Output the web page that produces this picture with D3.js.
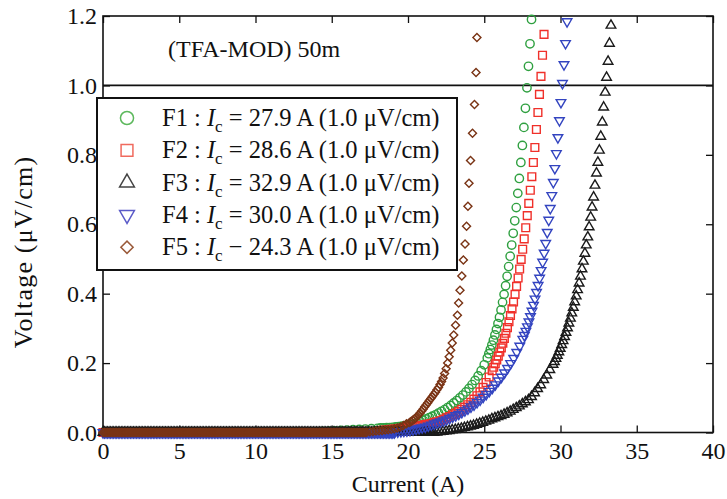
<!DOCTYPE html>
<html>
<head>
<meta charset="utf-8">
<script src="https://cdn.jsdelivr.net/npm/d3@7"></script>
<style>
  body { margin: 0; background: #fff; }
  text { font-family: "Liberation Serif", "Times New Roman", serif; fill: #111; }
</style>
</head>
<body>
<script>
// tick values / labels
const xTicks = [0, 5, 10, 15, 20, 25, 30, 35, 40];
const yTicks = [0, 0.2, 0.4, 0.6, 0.8, 1.0, 1.2];

// legend text pieces
const seriesNames = ["F1", "F2", "F3", "F4", "F5"];
const icValues = ["27.9", "28.6", "32.9", "30.0", "24.3"];
const icSigns = ["=", "=", "=", "=", "\u2212"];

// flat part of every sweep (V = 0), current in A
const baseCurrent = [
  0, 0.1, 0.2, 0.3, 0.4, 0.5, 0.6, 0.7, 0.8, 0.9,
  1, 1.1, 1.2, 1.3, 1.4, 1.5, 1.6, 1.7, 1.8, 1.9,
  2, 2.1, 2.2, 2.3, 2.4, 2.5, 2.6, 2.7, 2.8, 2.9,
  3, 3.1, 3.2, 3.3, 3.4, 3.5, 3.6, 3.7, 3.8, 3.9,
  4, 4.1, 4.2, 4.3, 4.4, 4.5, 4.6, 4.7, 4.8, 4.9,
  5, 5.1, 5.2, 5.3, 5.4, 5.5, 5.6, 5.7, 5.8, 5.9,
  6, 6.1, 6.2, 6.3, 6.4, 6.5, 6.6, 6.7, 6.8, 6.9,
  7, 7.1, 7.2, 7.3, 7.4, 7.5, 7.6, 7.7, 7.8, 7.9,
  8, 8.1, 8.2, 8.3, 8.4, 8.5, 8.6, 8.7, 8.8, 8.9,
  9, 9.1, 9.2, 9.3, 9.4, 9.5, 9.6, 9.7, 9.8, 9.9,
  10, 10.1, 10.2, 10.3, 10.4, 10.5, 10.6, 10.7, 10.8, 10.9,
  11, 11.1, 11.2, 11.3, 11.4, 11.5, 11.6, 11.7, 11.8, 11.9,
  12, 12.1, 12.2, 12.3, 12.4, 12.5, 12.6, 12.7, 12.8, 12.9,
  13, 13.1, 13.2, 13.3, 13.4, 13.5, 13.6, 13.7, 13.8, 13.9,
  14, 14.1, 14.2, 14.3, 14.4, 14.5, 14.6, 14.7, 14.8, 14.9,
  15, 15.1, 15.2, 15.3, 15.4, 15.5, 15.6, 15.7, 15.8, 15.9,
  16, 16.1, 16.2, 16.3, 16.4, 16.5, 16.6, 16.7, 16.8, 16.9,
  17, 17.1, 17.2, 17.3, 17.4, 17.5, 17.6, 17.7, 17.8, 17.9,
  18, 18.1, 18.2, 18.3, 18.4, 18.5, 18.6, 18.7, 18.8, 18.9,
  19, 19.1, 19.2, 19.3, 19.4, 19.5, 19.6, 19.7, 19.8, 19.9,
  20, 20.1, 20.2, 20.3, 20.4, 20.5, 20.6, 20.7, 20.8, 20.9,
  21, 21.1, 21.2, 21.3, 21.4, 21.5, 21.6
];

// rising part of each sweep: [current A, voltage uV/cm]
const f1Rise = [
  [14.0,.002],[14.4,.003],[14.8,.004],[15.2,.005],[15.6,.006],[16.0,.007],[16.4,.008],[16.8,.009],
  [17.2,.010],[17.6,.011],[18.0,.012],[18.2,.013],[18.4,.013],[18.6,.014],[18.8,.014],[19.0,.015],
  [19.2,.016],[19.4,.017],[19.6,.018],[19.8,.019],[20.0,.021],[20.2,.023],[20.4,.025],[20.6,.028],
  [20.8,.031],[21.0,.035],[21.2,.039],[21.4,.043],[21.6,.047],[21.8,.051],[22.0,.056],[22.2,.061],
  [22.4,.066],[22.6,.072],[22.8,.078],[23.0,.085],[23.2,.092],[23.4,.100],[23.6,.108],[23.8,.117],
  [24.0,.127],[24.2,.138],[24.4,.150],[24.6,.163],[24.8,.178],[25.0,.195],[25.2,.215],[25.3,.227],
  [25.4,.239],[25.5,.252],[25.6,.266],[25.7,.281],[25.8,.297],[25.9,.314],[26.0,.332],[26.1,.353],
  [26.2,.375],[26.3,.398],[26.4,.423],[26.5,.450],[26.6,.478],[26.7,.508],[26.8,.540],[26.9,.574],
  [27.0,.610],[27.1,.648],[27.2,.689],[27.3,.732],[27.4,.778],[27.5,.827],[27.6,.879],[27.7,.934],
  [27.8,.993],[27.9,1.055],[28.0,1.12],[28.1,1.19]
];
const f2Rise = [
  [18.12,.005],[18.32,.006],[18.52,.007],[18.72,.008],[18.92,.009],[19.12,.010],[19.32,.011],[19.52,.012],
  [19.72,.013],[19.92,.015],[20.12,.016],[20.32,.017],[20.52,.018],[20.72,.019],[20.92,.021],[21.12,.023],
  [21.32,.024],[21.52,.026],[21.72,.029],[21.92,.031],[22.12,.034],[22.32,.038],[22.52,.042],[22.72,.046],
  [22.92,.051],[23.12,.056],[23.32,.061],[23.52,.067],[23.72,.073],[23.92,.080],[24.12,.087],[24.32,.096],
  [24.52,.106],[24.72,.117],[24.92,.130],[25.12,.144],[25.32,.160],[25.52,.178],[25.62,.188],[25.72,.198],
  [25.82,.209],[25.92,.220],[26.02,.232],[26.12,.244],[26.22,.257],[26.32,.271],[26.42,.286],[26.52,.302],
  [26.62,.319],[26.72,.337],[26.82,.356],[26.92,.376],[27.02,.398],[27.12,.421],[27.22,.445],[27.32,.471],
  [27.42,.499],[27.52,.528],[27.62,.558],[27.72,.590],[27.82,.625],[27.92,.660],[28.02,.698],[28.12,.737],
  [28.22,.778],[28.32,.821],[28.42,.873],[28.52,.922],[28.62,.974],[28.72,1.026],[28.82,1.087],[28.92,1.147]
];
const f3Rise = [
  [21.7,.000],[21.9,.001],[22.1,.002],[22.3,.003],[22.5,.004],[22.7,.005],[22.9,.007],[23.1,.008],
  [23.3,.010],[23.5,.012],[23.7,.014],[23.9,.016],[24.1,.018],[24.3,.020],[24.5,.023],[24.7,.026],
  [24.9,.029],[25.1,.032],[25.3,.035],[25.5,.039],[25.7,.042],[25.9,.045],[26.1,.048],[26.3,.052],
  [26.5,.056],[26.7,.061],[26.9,.066],[27.1,.071],[27.3,.076],[27.5,.082],[27.7,.088],[27.9,.094],
  [28.1,.103],[28.3,.114],[28.5,.126],[28.7,.137],[28.9,.152],[29.1,.165],[29.3,.181],[29.51,.196],
  [29.60,.204],[29.70,.213],[29.79,.222],[29.89,.232],[29.98,.242],[30.08,.253],[30.17,.264],[30.27,.276],
  [30.36,.288],[30.46,.301],[30.55,.315],[30.65,.329],[30.74,.344],[30.84,.360],[30.93,.376],[31.03,.393],
  [31.12,.411],[31.22,.430],[31.31,.450],[31.41,.471],[31.50,.493],[31.60,.516],[31.69,.540],[31.79,.563],
  [31.88,.592],[31.98,.620],[32.07,.649],[32.17,.678],[32.26,.712],[32.36,.747],[32.45,.778],[32.55,.813],
  [32.64,.853],[32.74,.894],[32.83,.937],[32.93,.980],[33.02,1.023],[33.12,1.069],[33.21,1.121],[33.31,1.173]
];
const f4Rise = [
  [19.13,.001],[19.33,.002],[19.53,.003],[19.73,.004],[19.93,.005],[20.13,.006],[20.33,.008],[20.53,.010],
  [20.73,.012],[20.93,.014],[21.13,.016],[21.33,.019],[21.53,.022],[21.73,.025],[21.93,.028],[22.13,.031],
  [22.33,.034],[22.53,.037],[22.73,.041],[22.93,.045],[23.13,.049],[23.33,.053],[23.53,.058],[23.73,.063],
  [23.93,.068],[24.13,.074],[24.33,.080],[24.53,.087],[24.73,.094],[24.93,.102],[25.13,.110],[25.33,.119],
  [25.53,.128],[25.73,.138],[25.93,.149],[26.13,.160],[26.33,.172],[26.53,.185],[26.73,.199],[26.93,.214],
  [27.13,.231],[27.33,.249],[27.53,.269],[27.63,.280],[27.73,.292],[27.83,.305],[27.93,.319],[28.03,.334],
  [28.13,.350],[28.23,.367],[28.33,.385],[28.43,.404],[28.53,.424],[28.63,.445],[28.73,.467],[28.83,.491],
  [28.93,.517],[29.03,.545],[29.13,.577],[29.23,.612],[29.33,.646],[29.43,.683],[29.53,.721],[29.63,.761],
  [29.73,.804],[29.83,.850],[29.93,.899],[30.03,.951],[30.13,1.006],[30.23,1.060],[30.33,1.121],[30.43,1.184]
];
const f5Rise = [
  [17.3,.001],[17.5,.002],[17.7,.003],[17.9,.004],[18.1,.005],[18.3,.006],[18.5,.007],[18.7,.008],
  [18.9,.009],[19.1,.011],[19.3,.013],[19.5,.016],[19.7,.020],[19.9,.025],[20.1,.029],[20.2,.032],
  [20.3,.035],[20.4,.038],[20.5,.042],[20.6,.046],[20.7,.051],[20.8,.056],[20.9,.062],[21.0,.068],
  [21.1,.074],[21.2,.080],[21.3,.086],[21.4,.092],[21.5,.098],[21.6,.104],[21.7,.110],[21.8,.116],
  [21.9,.123],[22.0,.130],[22.1,.138],[22.2,.147],[22.3,.157],[22.4,.170],[22.5,.184],[22.6,.200],
  [22.7,.218],[22.80,.237],[22.90,.258],[23.00,.281],[23.12,.309],[23.24,.338],[23.32,.373],[23.41,.410],
  [23.53,.451],[23.63,.497],[23.74,.543],[23.84,.594],[23.93,.652],[24.00,.718],[24.10,.784],[24.23,.862],
  [24.36,.945],[24.46,1.037],[24.52,1.138]
];

const rises = [f1Rise, f2Rise, f3Rise, f4Rise, f5Rise];
const colors = ["#2fa040", "#f0302a", "#1a1a1a", "#3344c0", "#7a3415"];
const legendColors = ["#5cb85c", "#f06a5e", "#444444", "#5a5ac8", "#9a5a3a"];
const shapes = [d3.symbolCircle, d3.symbolSquare, d3.symbolTriangle, d3.symbolTriangle, d3.symbolSquare];
const turns = [0, 0, 0, 180, 45];
const plotSizes = [55, 60, 40, 40, 32];
const legendSizes = [135, 140, 95, 95, 75];

const width = 727, height = 499;
const plotLeft = 103, plotRight = 713, plotTop = 16, plotBottom = 432.5;

const svg = d3.select("body").append("svg")
  .attr("width", width)
  .attr("height", height);

const x = d3.scaleLinear().domain([0, 40]).range([plotLeft, plotRight]);
const y = d3.scaleLinear().domain([0, 1.2]).range([plotBottom, plotTop]);

// axes, ticks pointing inwards
svg.append("g")
  .attr("transform", `translate(0,${plotBottom})`)
  .call(d3.axisBottom(x).tickValues(xTicks).tickSizeInner(-7).tickSizeOuter(0).tickPadding(9)
    .tickFormat(d3.format("d")))
  .call(g => g.selectAll("text").attr("font-size", 24).attr("font-family", null));
svg.append("g")
  .attr("transform", `translate(0,${plotTop})`)
  .call(d3.axisTop(x).tickValues(xTicks).tickSizeInner(-7).tickSizeOuter(0).tickFormat(""));
svg.append("g")
  .attr("transform", `translate(${plotLeft},0)`)
  .call(d3.axisLeft(y).tickValues(yTicks).tickSizeInner(-7).tickSizeOuter(0).tickPadding(6)
    .tickFormat(d3.format(".1f")))
  .call(g => g.selectAll("text").attr("font-size", 24).attr("font-family", null));
svg.append("g")
  .attr("transform", `translate(${plotRight},0)`)
  .call(d3.axisRight(y).tickValues(yTicks).tickSizeInner(-7).tickSizeOuter(0).tickFormat(""));

svg.selectAll(".domain").remove();
svg.selectAll(".tick line").attr("stroke", "#111").attr("stroke-width", 1.3);

svg.append("rect")
  .attr("x", plotLeft).attr("y", plotTop)
  .attr("width", plotRight - plotLeft).attr("height", plotBottom - plotTop)
  .attr("fill", "none").attr("stroke", "#111").attr("stroke-width", 1.6);

// 1.0 uV/cm criterion
svg.append("line")
  .attr("x1", plotLeft).attr("x2", plotRight)
  .attr("y1", y(1.0)).attr("y2", y(1.0))
  .attr("stroke", "#111").attr("stroke-width", 1.6);

// markers
rises.forEach((rise, i) => {
  const flat = baseCurrent.filter(c => c < rise[0][0]).map(c => [c, 0]);
  const pts = flat.concat(rise);
  const sym = d3.symbol().type(shapes[i]).size(plotSizes[i]);
  svg.append("g")
    .selectAll("path")
    .data(pts)
    .enter().append("path")
    .attr("d", sym)
    .attr("transform", d => `translate(${x(d[0])},${y(d[1])}) rotate(${turns[i]})`)
    .attr("fill", "none")
    .attr("stroke", colors[i])
    .attr("stroke-width", 1.4);
});

svg.append("text")
  .attr("x", 168).attr("y", 57)
  .attr("font-size", 24)
  .text("(TFA-MOD) 50m");

// legend
const legend = svg.append("g");
legend.append("rect")
  .attr("x", 97).attr("y", 98)
  .attr("width", 360).attr("height", 172)
  .attr("fill", "#fff").attr("stroke", "#111").attr("stroke-width", 2);

seriesNames.forEach((name, i) => {
  const cy = 118 + i * 32.3;
  legend.append("path")
    .attr("d", d3.symbol().type(shapes[i]).size(legendSizes[i]))
    .attr("transform", `translate(127,${cy}) rotate(${turns[i]})`)
    .attr("fill", "none")
    .attr("stroke", legendColors[i])
    .attr("stroke-width", 1.5);
  const t = legend.append("text")
    .attr("x", 162).attr("y", cy + 8)
    .attr("font-size", 24.5);
  t.append("tspan").text(name + " : ");
  t.append("tspan").attr("font-style", "italic").text("I");
  t.append("tspan").attr("font-size", 17).attr("dy", 6).text("c");
  t.append("tspan").attr("dy", -6).text(" " + icSigns[i] + " " + icValues[i] + " A (1.0 \u03bcV/cm)");
});

// axis titles
svg.append("text")
  .attr("x", (plotLeft + plotRight) / 2).attr("y", 492)
  .attr("text-anchor", "middle")
  .attr("font-size", 24)
  .text("Current (A)");

svg.append("text")
  .attr("transform", "translate(32,252) rotate(-90)")
  .attr("text-anchor", "middle")
  .attr("font-size", 26)
  .attr("letter-spacing", 1.2)
  .text("Voltage (\u03bcV/cm)");
</script>
</body>
</html>
